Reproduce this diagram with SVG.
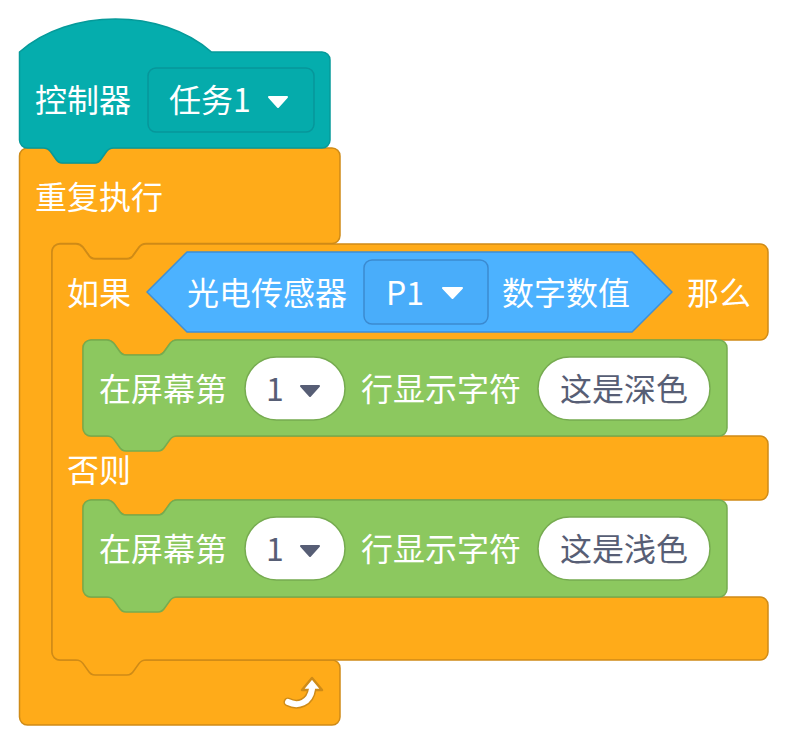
<svg xmlns="http://www.w3.org/2000/svg" width="788" height="746" viewBox="0 0 788 746">
<style>
.orange{fill:#FFAB19;stroke:#CF8B17;stroke-width:1.5}
.teal{fill:#05ADAD;stroke:#069A9A;stroke-width:1.5}
.green{fill:#8CC85F;stroke:#76AC4F;stroke-width:1.5}
.blue{fill:#4CB2FF;stroke:#3D8FD6;stroke-width:1.5}
.tdd{fill:#05ABAB;stroke:#07969A;stroke-width:1.5}
.bdd{fill:#49ADFA;stroke:#3B8AD0;stroke-width:1.5}
.oval{fill:#FFFFFF;stroke:#76AB50;stroke-width:1.5}
text{font-family:"Noto Sans CJK SC","Noto Sans",sans-serif;font-size:32px}
.w{fill:#FFFFFF}
.d{fill:#575E75}
</style>
<g id="forever">
<path class="orange" d="M19.5,156 a8,8 0 0 1 8,-8 H43.5 c 3,0 5,1.5 7,3.5 l 5,7 c 1.5,2.5 4,4.5 7,4.5 h 32 c 3,0 5.5,-2 7,-4.5 l 5,-7 c 1.5,-2 4,-3.5 7,-3.5 H332 a8,8 0 0 1 8,8 V235.5 a8,8 0 0 1 -8,8 H146 c -3,0 -5.5,1.5 -7,3.5 l -5,7 c -1.5,2.5 -4,4.5 -7,4.5 h -32 c -3,0 -5.5,-2 -7,-4.5 l -5,-7 c -1.5,-2 -4,-3.5 -7,-3.5 H60 a8,8 0 0 0 -8,8 V652 a8,8 0 0 0 8,8 H332 a8,8 0 0 1 8,8 V717 a8,8 0 0 1 -8,8 H27.5 a8,8 0 0 1 -8,-8 Z"/>
<text class="w" x="35" y="209">重复执行</text>
<path d="M288,702 C298,707 310,703 312,689" fill="none" stroke="#CF8B17" stroke-width="9" stroke-linecap="round"/>
<polygon points="302,690 312,678 322,690" fill="#FFFFFF" stroke="#CF8B17" stroke-width="2.5" stroke-linejoin="round"/>
<path d="M288,702 C298,707 310,703 312,689" fill="none" stroke="#FFFFFF" stroke-width="6" stroke-linecap="round"/>
</g>
<g id="hat">
<path class="teal" d="M19.5,52 c 50,-44 142,-44 192,0 H322 a8,8 0 0 1 8,8 V140 a8,8 0 0 1 -8,8 H113.5 c -3,0 -5.5,1.5 -7,3.5 l -5,7 c -1.5,2.5 -4,4.5 -7,4.5 h -32 c -3,0 -5.5,-2 -7,-4.5 l -5,-7 c -1.5,-2 -4,-3.5 -7,-3.5 H27.5 a8,8 0 0 1 -8,-8 Z"/>
<text class="w" x="35" y="112">控制器</text>
<rect class="tdd" x="148" y="68" width="166" height="64" rx="8"/>
<text class="w" x="169" y="112">任务1</text>
<path d="M269,97 L287,97 L278,107 Z" fill="#FFFFFF" stroke="#FFFFFF" stroke-width="2" stroke-linejoin="round"/>
</g>
<g id="ifelse">
<path class="orange" d="M52,252 a8,8 0 0 1 8,-8 H76 c 3,0 5,1.5 7,3.5 l 5,7 c 1.5,2.5 4,4.5 7,4.5 h 32 c 3,0 5.5,-2 7,-4.5 l 5,-7 c 1.5,-2 4,-3.5 7,-3.5 H760 a8,8 0 0 1 8,8 V332 a8,8 0 0 1 -8,8 H177 c -3,0 -5.5,1.5 -7,3.5 l -5,7 c -1.5,2.5 -4,4.5 -7,4.5 h -32 c -3,0 -5.5,-2 -7,-4.5 l -5,-7 c -1.5,-2 -4,-3.5 -7,-3.5 H91 a8,8 0 0 0 -8,8 V428 a8,8 0 0 0 8,8 H760 a8,8 0 0 1 8,8 V492 a8,8 0 0 1 -8,8 H177 c -3,0 -5.5,1.5 -7,3.5 l -5,7 c -1.5,2.5 -4,4.5 -7,4.5 h -32 c -3,0 -5.5,-2 -7,-4.5 l -5,-7 c -1.5,-2 -4,-3.5 -7,-3.5 H91 a8,8 0 0 0 -8,8 V589 a8,8 0 0 0 8,8 H760 a8,8 0 0 1 8,8 V652 a8,8 0 0 1 -8,8 H146 c -3,0 -5.5,1.5 -7,3.5 l -5,7 c -1.5,2.5 -4,4.5 -7,4.5 h -32 c -3,0 -5.5,-2 -7,-4.5 l -5,-7 c -1.5,-2 -4,-3.5 -7,-3.5 H60 a8,8 0 0 1 -8,-8 Z"/>
<text class="w" x="67" y="305">如果</text>
<text class="w" x="687" y="305">那么</text>
<text class="w" x="67" y="482">否则</text>
</g>
<g id="sensor">
<polygon class="blue" points="147,292 187,252 632,252 672,292 632,332 187,332" stroke-linejoin="round"/>
<text class="w" x="187" y="305">光电传感器</text>
<rect class="bdd" x="364" y="260" width="124" height="64" rx="8"/>
<text class="w" x="386" y="305">P1</text>
<path d="M443,288 L462,288 L452.5,298 Z" fill="#FFFFFF" stroke="#FFFFFF" stroke-width="2" stroke-linejoin="round"/>
<text class="w" x="502" y="305">数字数值</text>
</g>
<g id="display1">
<path class="green" d="M83,348 a8,8 0 0 1 8,-8 H107 c 3,0 5,1.5 7,3.5 l 5,7 c 1.5,2.5 4,4.5 7,4.5 h 32 c 3,0 5.5,-2 7,-4.5 l 5,-7 c 1.5,-2 4,-3.5 7,-3.5 H719 a8,8 0 0 1 8,8 V428 a8,8 0 0 1 -8,8 H177 c -3,0 -5.5,1.5 -7,3.5 l -5,7 c -1.5,2.5 -4,4.5 -7,4.5 h -32 c -3,0 -5.5,-2 -7,-4.5 l -5,-7 c -1.5,-2 -4,-3.5 -7,-3.5 H91 a8,8 0 0 1 -8,-8 Z"/>
<text class="w" x="99" y="401">在屏幕第</text>
<rect class="oval" x="245" y="357" width="100" height="63" rx="31.5"/>
<text class="d" x="275" y="401" text-anchor="middle">1</text>
<path d="M301,386 L319,386 L310,396 Z" fill="#575E75" stroke="#575E75" stroke-width="2" stroke-linejoin="round"/>
<text class="w" x="361" y="401">行显示字符</text>
<rect class="oval" x="538" y="357" width="172" height="63" rx="31.5"/>
<text class="d" x="624" y="401" text-anchor="middle">这是深色</text>
</g>
<g id="display2">
<path class="green" d="M83,508 a8,8 0 0 1 8,-8 H107 c 3,0 5,1.5 7,3.5 l 5,7 c 1.5,2.5 4,4.5 7,4.5 h 32 c 3,0 5.5,-2 7,-4.5 l 5,-7 c 1.5,-2 4,-3.5 7,-3.5 H719 a8,8 0 0 1 8,8 V589 a8,8 0 0 1 -8,8 H177 c -3,0 -5.5,1.5 -7,3.5 l -5,7 c -1.5,2.5 -4,4.5 -7,4.5 h -32 c -3,0 -5.5,-2 -7,-4.5 l -5,-7 c -1.5,-2 -4,-3.5 -7,-3.5 H91 a8,8 0 0 1 -8,-8 Z"/>
<text class="w" x="99" y="561">在屏幕第</text>
<rect class="oval" x="245" y="517" width="100" height="63" rx="31.5"/>
<text class="d" x="275" y="561" text-anchor="middle">1</text>
<path d="M301,546 L319,546 L310,556 Z" fill="#575E75" stroke="#575E75" stroke-width="2" stroke-linejoin="round"/>
<text class="w" x="361" y="561">行显示字符</text>
<rect class="oval" x="538" y="517" width="172" height="63" rx="31.5"/>
<text class="d" x="624" y="561" text-anchor="middle">这是浅色</text>
</g>
<g id="connectors"/>
</svg>
